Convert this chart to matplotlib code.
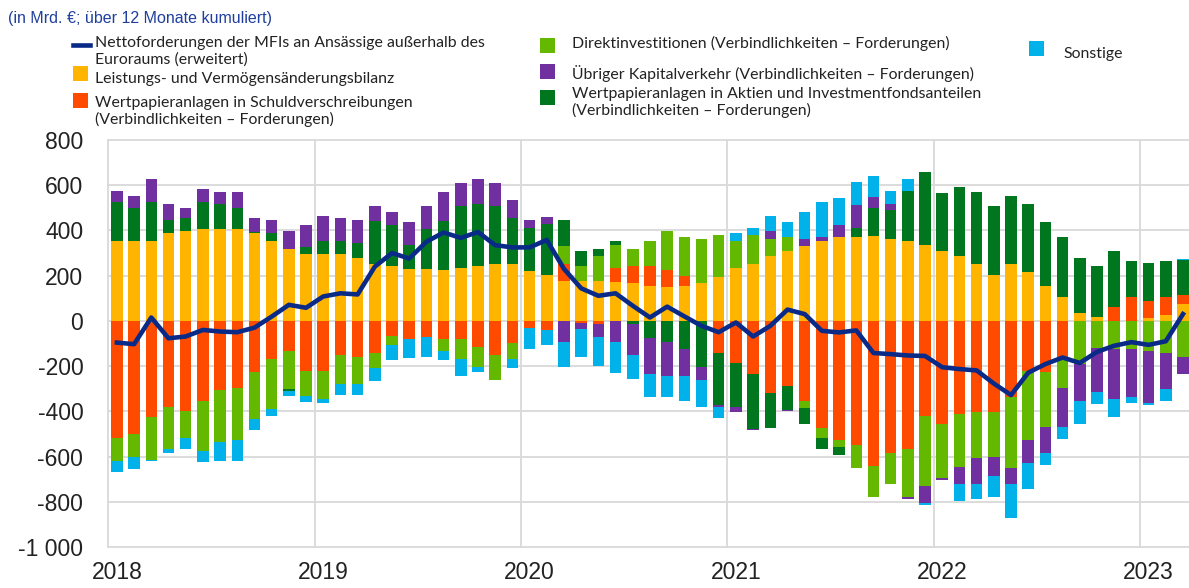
import numpy as np
import pandas as pd
import matplotlib
matplotlib.use("Agg")
import matplotlib.pyplot as plt
from matplotlib.patches import Rectangle
from matplotlib.lines import Line2D

# monthly, Jan 2018 - Mar 2023 (12-month cumulated flows, EUR bn)
months = pd.date_range("2018-01-01", "2023-03-01", freq="MS")

leistungsbilanz = [354, 354, 354, 388, 396, 406, 406, 406, 388, 354, 319, 295, 295,
                   295, 277, 251, 244, 230, 230, 226, 233, 244, 251, 251, 221, 201,
                   177, 177, 177, 174, 167, 156, 149, 156, 167, 192, 233, 251, 285,
                   311, 329, 354, 370, 370, 377, 361, 354, 336, 310, 285, 251, 201,
                   251, 218, 156, 105, 37, 15, 0, 0, 12, 28, 73]
schuldverschr = [-520, -502, -424, -382, -399, -354, -306, -295, -227, -168, -133, -220, -220,
                 -151, -158, -140, -65, -81, -72, -81, -81, -117, -151, -99, -30, -40,
                 74, -10, -12, 59, 77, 87, 77, 43, 0, -140, -185, -235, -320,
                 -286, -354, -475, -527, -550, -643, -585, -566, -422, -455, -413, -404, -404,
                 -335, -220, -227, -158, 0, 0, 61, 104, 76, 76, 42]
direktinv = [-100, -102, -192, -185, -118, -221, -229, -232, -207, -221, -168, -111, -127,
             -130, -123, -69, -41, 0, 0, -52, -87, -86, -111, -69, 0, 0,
             78, 66, 108, 103, 75, 111, 170, 171, 195, 189, 121, 130, 77,
             59, -32, -41, -32, -101, -136, -136, -213, -308, -240, -232, -204, -196,
             -317, -307, -241, -137, -192, -121, -123, -125, -133, -140, -158]
aktien_fonds = [170, 145, 170, 59, 59, 118, 111, 93, 7, 34, -9, 31, 59,
                59, 69, 189, 179, 106, 176, 214, 276, 273, 258, 204, 192, 227,
                118, 66, 34, 18, -15, -74, -92, -124, -202, -232, -198, -241, -152,
                -106, -71, -50, -34, 43, 121, 130, 221, 324, 257, 307, 317, 306,
                300, 298, 280, 264, 241, 229, 248, 162, 168, 161, 153]
kapitalverkehr = [52, 52, 105, 69, 44, 61, 52, 69, 62, 59, 77, 96, 111,
                  103, 100, 69, 59, 103, 103, 128, 100, 112, 100, 78, 34, 30,
                  -95, -25, -60, -93, -137, -162, -152, -120, -59, -10, -22, -7, 34,
                  -7, 32, 16, 52, 101, 52, 25, -8, -76, -7, -77, -114, -86,
                  -70, -103, -118, -173, -162, -192, -224, -213, -232, -162, -77]
sonstige = [-50, -49, -4, -16, -50, -50, -84, -92, -49, -31, -21, -27, -18,
            -47, -47, -59, -68, -84, -86, -41, -74, -25, 0, -41, -94, -66,
            -110, -125, -128, -136, -103, -102, -94, -111, -118, -49, 34, 32, 69,
            69, 120, 154, 121, 101, 92, 58, 52, -7, 0, -75, -66, -92,
            -151, -115, -52, -56, -103, -56, -77, -27, -5, -52, 7]
netto = [-96, -103, 15, -77, -69, -40, -47, -50, -30, 19, 71, 58, 108,
         122, 117, 240, 300, 276, 350, 391, 367, 393, 335, 325, 325, 358,
         230, 144, 111, 122, 67, 15, 63, 20, -22, -50, -7, -69, -22,
         50, 30, -44, -51, -42, -142, -147, -153, -155, -205, -213, -219, -277,
         -328, -229, -191, -162, -186, -137, -110, -94, -106, -90, 30]

series = [
    ("Leistungs- und Vermögensänderungsbilanz", leistungsbilanz, "#FFB400"),
    ("Wertpapieranlagen in Schuldverschreibungen\n(Verbindlichkeiten – Forderungen)", schuldverschr, "#FF4B00"),
    ("Direktinvestitionen (Verbindlichkeiten – Forderungen)", direktinv, "#65B800"),
    ("Wertpapieranlagen in Aktien und Investmentfondsanteilen\n(Verbindlichkeiten – Forderungen)", aktien_fonds, "#00771F"),
    ("Übriger Kapitalverkehr (Verbindlichkeiten – Forderungen)", kapitalverkehr, "#7030A0"),
    ("Sonstige", sonstige, "#00B1EA"),
]
netto_label = "Nettoforderungen der MFIs an Ansässige außerhalb des\nEuroraums (erweitert)"
line_color = "#0A2A88"

W, H = 1189, 588
fig = plt.figure(figsize=(W / 100, H / 100), dpi=100)
ax = fig.add_axes([108.3 / W, (H - 547) / H, (W - 108.3) / W, (547 - 140) / H])

x = np.arange(len(months)) + 0.5
pos = np.zeros(len(months))
neg = np.zeros(len(months))
for name, vals, col in series:
    v = np.array(vals, dtype=float)
    b = np.where(v >= 0, pos, neg)
    ax.bar(x, v, bottom=b, width=0.67, color=col, linewidth=0, zorder=2)
    pos = pos + np.clip(v, 0, None)
    neg = neg + np.clip(v, None, 0)

ax.plot(x, netto, color=line_color, lw=3.3, solid_joinstyle="round", zorder=3)

ax.set_xlim(0, 62.85)
ax.set_ylim(-1000, 800)
yt = np.arange(-1000, 801, 200)
for y in yt:
    ax.axhline(y, color="#d9d9d9", lw=1.3, zorder=1, clip_on=False)
year_pos = np.arange(0, len(months), 12)
for xv in year_pos:
    ax.axvline(xv, color="#d9d9d9", lw=1.3, zorder=1, clip_on=False)
for s in ax.spines.values():
    s.set_visible(False)

ax.set_yticks(yt)
ax.set_yticklabels([f"{v:,}".replace(",", " ") for v in yt])
ax.set_xticks(year_pos + 0.5)
ax.set_xticklabels([str(m.year) for m in months[year_pos]])
ax.tick_params(axis="y", length=0, pad=18, labelsize=16.5, labelcolor="#222222")
ax.tick_params(axis="x", length=0, pad=10, labelsize=16.5, labelcolor="#222222")
for lab in ax.get_xticklabels() + ax.get_yticklabels():
    lab.set_fontfamily("Liberation Sans")

fig.text(8 / W, 1 - 18 / H, "(in Mrd. €; über 12 Monate kumuliert)", color="#1F3F9F",
         fontsize=11.5, family="Liberation Sans", va="center", ha="left")


def fx(px):
    return px / W


def fy(py):
    return 1 - py / H


leg_font = dict(fontsize=11.4, family="Lato", color="#222222", va="top", ha="left",
                linespacing=1.2)


def legend_box(x0, yc, col):
    fig.add_artist(Rectangle((fx(x0), fy(yc + 7.5)), 15 / W, 15 / H,
                             transform=fig.transFigure, color=col, lw=0))


# column 1
fig.add_artist(Line2D([fx(73), fx(90)], [fy(45), fy(45)], transform=fig.transFigure,
                      color=line_color, lw=3.3))
fig.text(fx(95), fy(36.5), netto_label, **leg_font)
legend_box(73, 73, series[0][2])
fig.text(fx(95), fy(71.5), series[0][0], **leg_font)
legend_box(73, 100, series[1][2])
fig.text(fx(95), fy(95.5), series[1][0], **leg_font)
# column 2
legend_box(540, 45, series[2][2])
fig.text(fx(572), fy(36), series[2][0], **leg_font)
legend_box(540, 71, series[4][2])
fig.text(fx(572), fy(65), series[4][0], **leg_font)
legend_box(540, 97, series[3][2])
fig.text(fx(572), fy(87), series[3][0], **leg_font)
# column 3
legend_box(1029, 48, series[5][2])
fig.text(fx(1063), fy(47), series[5][0], **leg_font)

fig.savefig("out.png", dpi=100)
